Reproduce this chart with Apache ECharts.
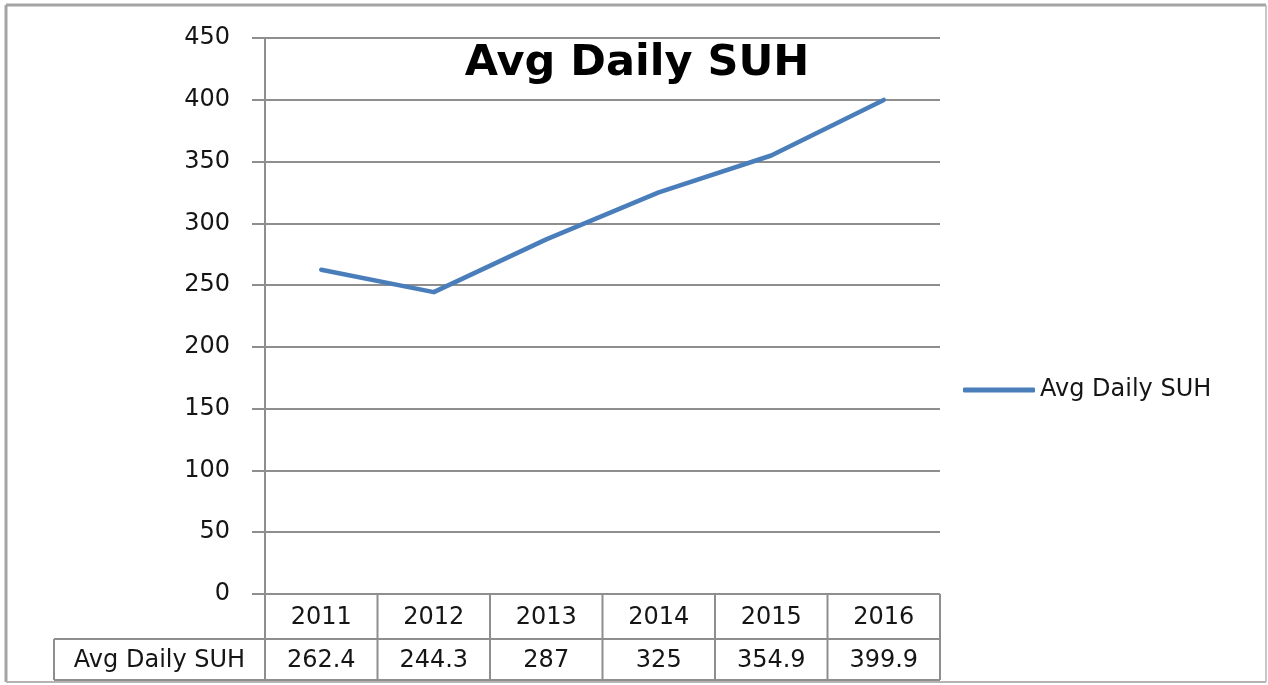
<!DOCTYPE html>
<html>
<head>
<meta charset="utf-8">
<script src="https://cdn.jsdelivr.net/npm/echarts@6/dist/echarts.min.js"></script>
<style>
  html, body { margin: 0; padding: 0; background: #fff; }
  #chart { width: 1268px; height: 685px; }
</style>
</head>
<body>
<div id="chart"></div>
<script>
// Yearly average daily SUH
const categories = ['2011', '2012', '2013', '2014', '2015', '2016'];
const seriesName = 'Avg Daily SUH';
const values = [262.4, 244.3, 287, 325, 354.9, 399.9];
const yMin = 0;
const yMax = 450;
const yStep = 50;

const LABEL_FONT = 'DejaVu Sans';
const LABEL_SIZE = 24;
const TEXT = '#151515';
const GRID = '#8e8e8e';
const BLUE = '#4A7EBB';

const chart = echarts.init(document.getElementById('chart'), null, { renderer: 'canvas' });

const gridBox = { left: 265, right: 328, top: 38, bottom: 91 };

chart.setOption({
  backgroundColor: '#ffffff',
  animation: false,
  title: {
    text: seriesName,
    left: 632,
    top: 37,
    textAlign: 'center',
    textStyle: { fontFamily: 'DejaVu Sans', fontWeight: 'bold', fontSize: 43, color: '#000' }
  },
  legend: {
    data: [seriesName],
    left: 958,
    top: 373,
    icon: 'roundRect',
    itemWidth: 72,
    itemHeight: 5,
    textStyle: { fontFamily: LABEL_FONT, fontSize: LABEL_SIZE, color: TEXT }
  },
  grid: Object.assign({ outerBoundsMode: 'none', containLabel: false }, gridBox),
  xAxis: {
    type: 'category',
    data: categories,
    boundaryGap: true,
    axisLine: { show: false },
    axisTick: { show: false },
    splitLine: { show: false },
    axisLabel: {
      interval: 0,
      margin: 12,
      fontFamily: LABEL_FONT,
      fontSize: LABEL_SIZE,
      color: TEXT
    }
  },
  yAxis: {
    type: 'value',
    min: yMin,
    max: yMax,
    interval: yStep,
    axisLine: { show: true, lineStyle: { color: GRID, width: 2 } },
    axisTick: { show: true, length: 13, lineStyle: { color: GRID, width: 2 } },
    splitLine: { show: true, lineStyle: { color: GRID, width: 2 } },
    axisLabel: {
      margin: 35,
      padding: [3, 0, 0, 0],
      fontFamily: LABEL_FONT,
      fontSize: LABEL_SIZE,
      color: TEXT
    }
  },
  series: [{
    name: seriesName,
    type: 'line',
    data: values,
    symbol: 'none',
    lineStyle: { color: BLUE, width: 4.5, cap: 'round', join: 'round' },
    itemStyle: { color: BLUE }
  }]
});

// Data table under the plot, laid out from the category axis positions
const plotLeft = gridBox.left;
const plotRight = 1268 - gridBox.right;
const axisY = chart.convertToPixel({ yAxisIndex: 0 }, 0);
const band = (plotRight - plotLeft) / categories.length;
const row1Bottom = axisY + 45;
const row2Bottom = row1Bottom + 41;
const headerLeft = 54;

const lineStyle = { stroke: GRID, lineWidth: 2 };
const graphics = [];

// outer frame of the chart area
graphics.push({ type: 'line', silent: true, shape: { x1: 6, y1: 5, x2: 1266, y2: 5 }, style: { stroke: '#a4a4a4', lineWidth: 3 } });
graphics.push({ type: 'line', silent: true, shape: { x1: 6, y1: 5, x2: 6, y2: 682 }, style: { stroke: '#a4a4a4', lineWidth: 3 } });
graphics.push({ type: 'line', silent: true, shape: { x1: 1266, y1: 5, x2: 1266, y2: 682 }, style: { stroke: '#b4b4b4', lineWidth: 1.5 } });
graphics.push({ type: 'line', silent: true, shape: { x1: 6, y1: 682, x2: 1266, y2: 682 }, style: { stroke: '#b4b4b4', lineWidth: 2 } });

// horizontal rules
graphics.push({ type: 'line', silent: true, shape: { x1: headerLeft, y1: row1Bottom, x2: plotRight, y2: row1Bottom }, style: lineStyle });
graphics.push({ type: 'line', silent: true, shape: { x1: headerLeft, y1: row2Bottom, x2: plotRight, y2: row2Bottom }, style: lineStyle });
// header cell left edge
graphics.push({ type: 'line', silent: true, shape: { x1: headerLeft, y1: row1Bottom, x2: headerLeft, y2: row2Bottom }, style: lineStyle });

// column separators
for (let i = 0; i <= categories.length; i++) {
  const cx = i < categories.length
    ? chart.convertToPixel({ xAxisIndex: 0 }, i) - band / 2
    : chart.convertToPixel({ xAxisIndex: 0 }, i - 1) + band / 2;
  graphics.push({ type: 'line', silent: true, shape: { x1: cx, y1: axisY, x2: cx, y2: row2Bottom }, style: lineStyle });
}

// row header
graphics.push({
  type: 'text', silent: true,
  x: (headerLeft + plotLeft) / 2, y: (row1Bottom + row2Bottom) / 2 + 1,
  style: { text: seriesName, fontFamily: LABEL_FONT, fontSize: LABEL_SIZE, fill: TEXT, align: 'center', verticalAlign: 'middle' }
});

// values row
values.forEach(function (v, i) {
  graphics.push({
    type: 'text', silent: true,
    x: chart.convertToPixel({ xAxisIndex: 0 }, i),
    y: (row1Bottom + row2Bottom) / 2 + 1,
    style: { text: String(v), fontFamily: LABEL_FONT, fontSize: LABEL_SIZE, fill: TEXT, align: 'center', verticalAlign: 'middle' }
  });
});

chart.setOption({ graphic: graphics });
</script>
</body>
</html>
